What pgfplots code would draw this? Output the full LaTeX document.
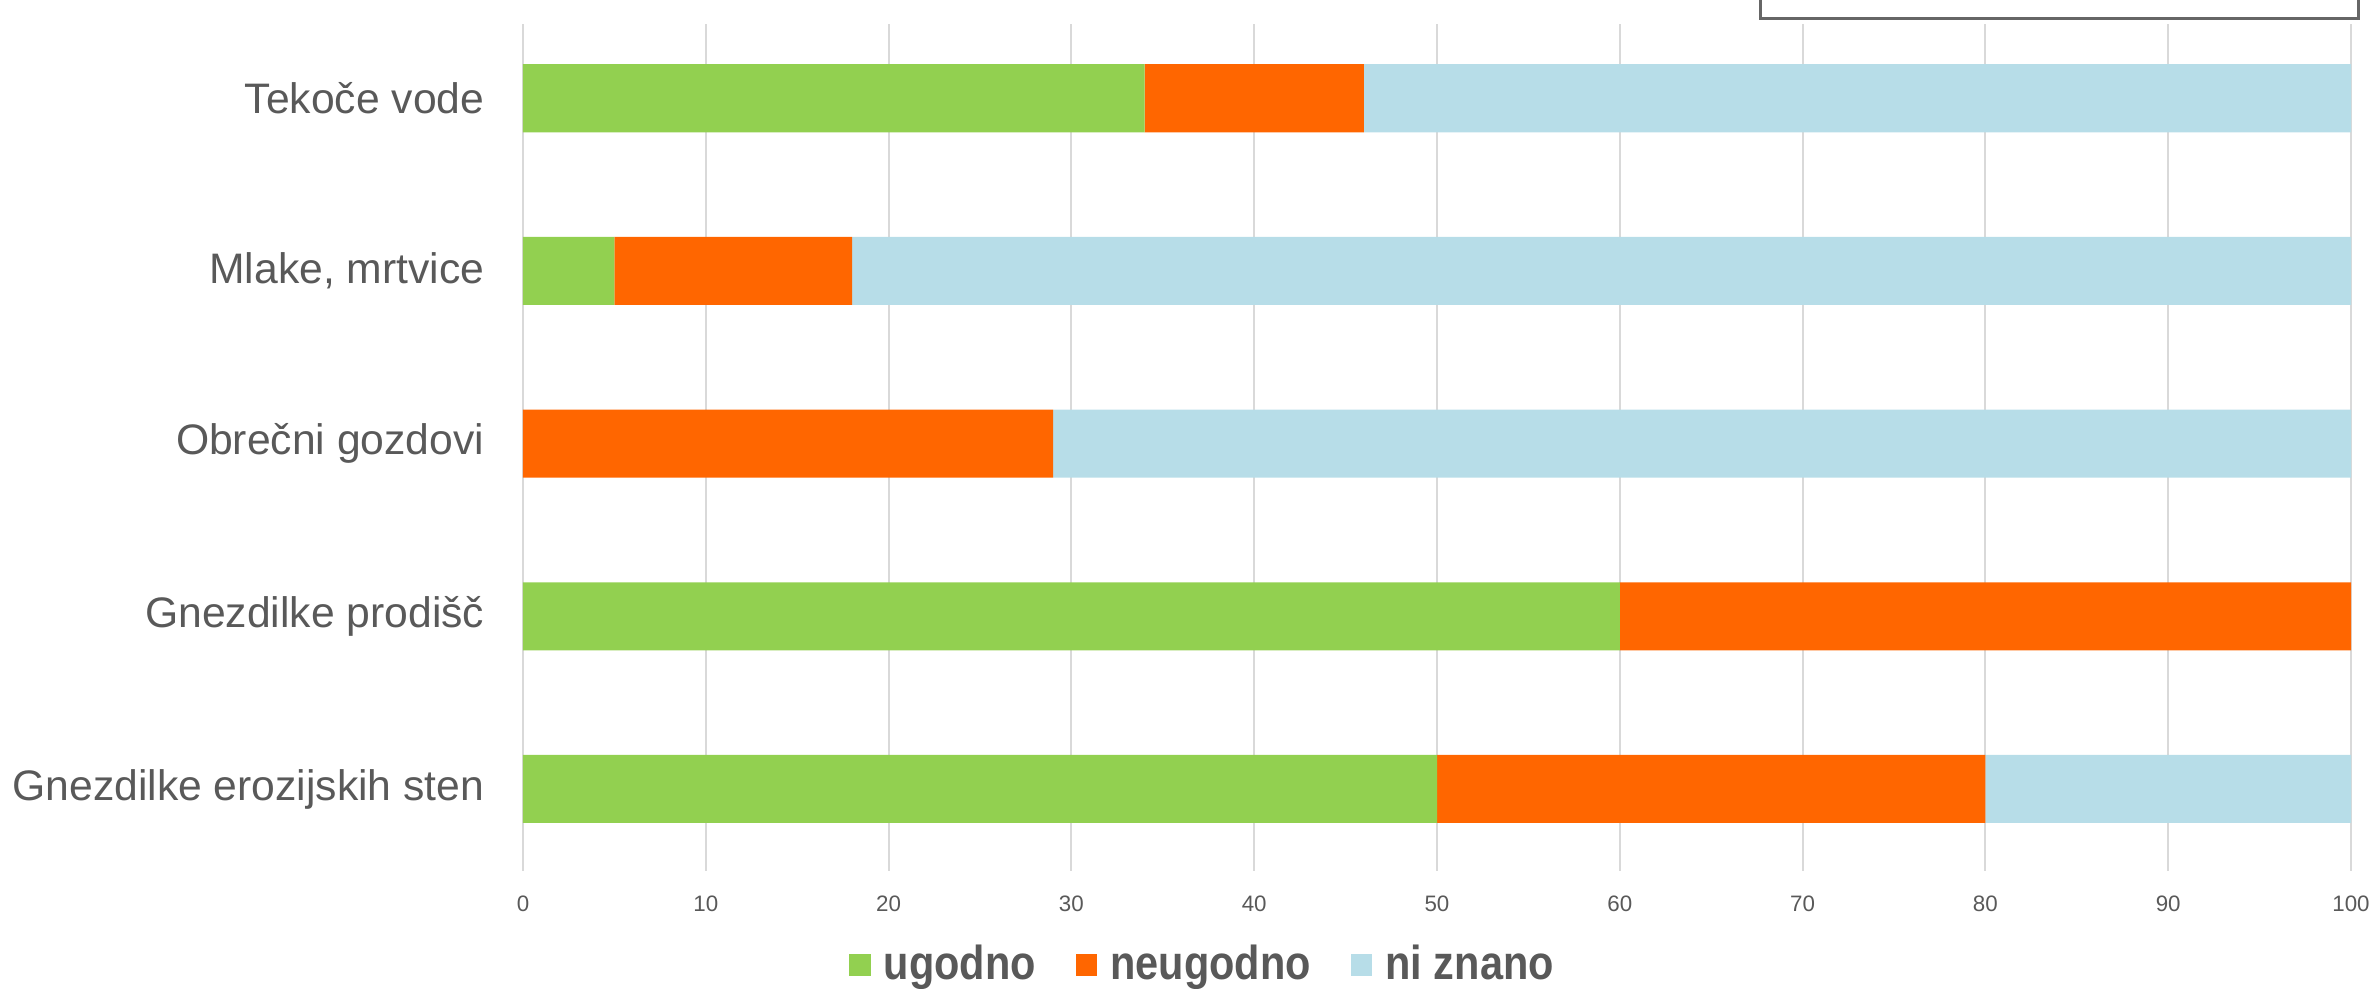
\documentclass[border=0pt]{standalone}
\usepackage{fontspec}
\setmainfont{Liberation Sans}
\newfontfamily\legfont[FakeStretch=0.87]{Liberation Sans}
\usepackage{pgfplots}
\pgfplotsset{compat=1.18}
\definecolor{cgreen}{HTML}{92D050}
\definecolor{corange}{HTML}{FF6600}
\definecolor{cblue}{HTML}{B7DDE8}
\definecolor{txt}{HTML}{595959}
\definecolor{gridc}{HTML}{D9D9D9}
\definecolor{boxc}{HTML}{666666}
\begin{document}
\begin{tikzpicture}
\useasboundingbox (-156.9pt,-35.4pt) rectangle (555.6pt,261.3pt);
\begin{axis}[
  at={(0pt,0pt)}, anchor=south west,
  scale only axis, width=548.4pt, height=254.1pt,
  xbar stacked, bar width=20.4pt,
  xmin=0, xmax=100, ymin=-0.475, ymax=4.43,
  ytick={0,1,2,3,4},
  yticklabels={Gnezdilke erozijskih sten,Gnezdilke prodišč,Obrečni gozdovi,{Mlake, mrtvice},Tekoče vode},
  xtick={0,10,...,100},
  xmajorgrids, grid style={color=gridc, line width=0.6pt},
  axis line style={draw=none},
  major tick length=0pt,
  /pgf/number format/assume math mode=true,
  xticklabel style={font=\fontsize{6.7}{8}\selectfont, text=txt, inner sep=0pt},
  xticklabel shift=7.2pt,
  yticklabel style={font=\fontsize{12.8}{15}\selectfont, text=txt, inner sep=0pt},
  yticklabel shift=11.4pt,
  legend columns=3,
  legend style={at={(0.373,-0.111)}, anchor=center, draw=none, fill=none,
    font=\legfont\bfseries\fontsize{14.3}{16}\selectfont, text=txt,
    /tikz/every odd column/.append style={column sep=2pt},
    /tikz/every even column/.append style={column sep=10pt}},
  legend image code/.code={\fill[#1] (0pt,-3.2pt) rectangle (6.4pt,3.2pt);},
  legend cell align=left,
]
\addplot[fill=cgreen, draw=none] coordinates {(50,0) (60,1) (0,2) (5,3) (34,4)};
\addplot[fill=corange, draw=none] coordinates {(30,0) (40,1) (29,2) (13,3) (12,4)};
\addplot[fill=cblue, draw=none] coordinates {(20,0) (0,1) (71,2) (82,3) (54,4)};
\legend{ugodno,neugodno,ni znano}
\end{axis}
\draw[boxc, line width=0.9pt] (371.1pt,255.6pt) rectangle (550.5pt,300pt);
\end{tikzpicture}
\end{document}
